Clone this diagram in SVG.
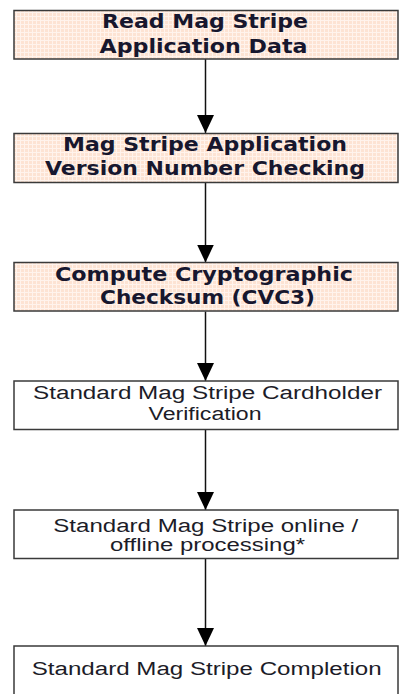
<svg xmlns="http://www.w3.org/2000/svg" width="401" height="694" viewBox="0 0 401 694">
<style>
.box{stroke:#3a3a3a;stroke-width:1.5}
.hl{fill:url(#peach)}
.pl{fill:#ffffff}
.bt{font-family:"DejaVu Sans",Verdana,sans-serif;font-weight:bold;font-size:20px;fill:#17172e}
.nt{font-family:"Liberation Sans",Arial,sans-serif;font-size:18px;fill:#1c1c28}
.conn{stroke:#111;stroke-width:1.5;fill:none}
</style>
<defs>
<pattern id="peach" width="4" height="4" patternUnits="userSpaceOnUse">
<rect width="4" height="4" fill="#fde3d3"/>
<path d="M0,0.5H4M0.5,0V4" stroke="#fff3ec" stroke-width="1"/>
</pattern>
<marker id="ah" viewBox="0 0 18 17" refX="18" refY="8.5" markerWidth="18" markerHeight="17" markerUnits="userSpaceOnUse" orient="auto">
<path d="M0,0L18,8.5L0,17z" fill="#000"/>
</marker>
</defs>
<g id="connectors">
<line class="conn" x1="205.5" y1="59" x2="205.5" y2="133" marker-end="url(#ah)"/>
<line class="conn" x1="205.5" y1="183" x2="205.5" y2="262.5" marker-end="url(#ah)" stroke="#333"/>
<line class="conn" x1="205.5" y1="311.5" x2="205.5" y2="381" marker-end="url(#ah)" stroke="#333"/>
<line class="conn" x1="205.5" y1="429.5" x2="205.5" y2="510" marker-end="url(#ah)"/>
<line class="conn" x1="205.5" y1="558.5" x2="205.5" y2="646" marker-end="url(#ah)"/>
</g>
<g id="n1">
<rect class="box hl" x="14" y="10.5" width="384" height="48.5"/>
<text class="bt" x="205" y="28" text-anchor="middle" textLength="206" lengthAdjust="spacingAndGlyphs">Read Mag Stripe</text>
<text class="bt" x="203.5" y="52.5" text-anchor="middle" textLength="208" lengthAdjust="spacingAndGlyphs">Application Data</text>
</g>
<g id="n2">
<rect class="box hl" x="14" y="133.5" width="384" height="49"/>
<text class="bt" x="205" y="150.5" text-anchor="middle" textLength="284" lengthAdjust="spacingAndGlyphs">Mag Stripe Application</text>
<text class="bt" x="205" y="174.5" text-anchor="middle" textLength="320" lengthAdjust="spacingAndGlyphs">Version Number Checking</text>
</g>
<g id="n3">
<rect class="box hl" x="14" y="262.5" width="384" height="48.5"/>
<text class="bt" x="204" y="280.5" text-anchor="middle" textLength="298" lengthAdjust="spacingAndGlyphs">Compute Cryptographic</text>
<text class="bt" x="207.5" y="304" text-anchor="middle" textLength="215" lengthAdjust="spacingAndGlyphs">Checksum (CVC3)</text>
</g>
<g id="n4">
<rect class="box pl" x="14" y="381" width="384" height="48.5"/>
<text class="nt" x="207.5" y="399" text-anchor="middle" textLength="349" lengthAdjust="spacingAndGlyphs">Standard Mag Stripe Cardholder</text>
<text class="nt" x="205" y="419.5" text-anchor="middle" textLength="113" lengthAdjust="spacingAndGlyphs">Verification</text>
</g>
<g id="n5">
<rect class="box pl" x="14" y="510" width="384" height="48.5"/>
<text class="nt" x="205.8" y="532" text-anchor="middle" textLength="305" lengthAdjust="spacingAndGlyphs">Standard Mag Stripe online /</text>
<text class="nt" x="207.5" y="551" text-anchor="middle" textLength="195" lengthAdjust="spacingAndGlyphs">offline processing*</text>
</g>
<g id="n6">
<rect class="box pl" x="14" y="646" width="384" height="56"/>
<text class="nt" x="206.7" y="675" text-anchor="middle" textLength="350" lengthAdjust="spacingAndGlyphs">Standard Mag Stripe Completion</text>
</g>
</svg>
